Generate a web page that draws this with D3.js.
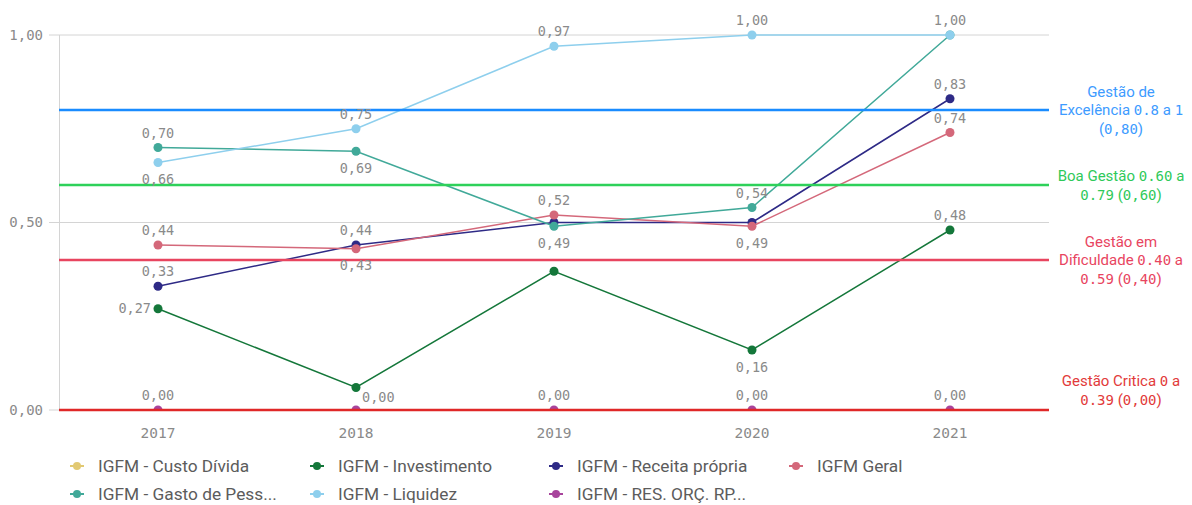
<!DOCTYPE html>
<html><head><meta charset="utf-8">
<script src="https://cdn.jsdelivr.net/npm/d3@7"></script>
<style>
body{margin:0;background:#fff;}
svg{display:block;}
</style></head>
<body>
<svg id="c" width="1192" height="505"></svg>
<script>
const years = ["2017","2018","2019","2020","2021"];
const yTicks = [0, 0.5, 1];

const custoDivida   = [null, null, null, null, null];
const investimento  = [0.27, 0.06, 0.37, 0.16, 0.48];
const receitaPropria= [0.33, 0.44, 0.50, 0.50, 0.83];
const igfmGeral     = [0.44, 0.43, 0.52, 0.49, 0.74];
const gastoPessoal  = [0.70, 0.69, 0.49, 0.54, 1.00];
const liquidez      = [0.66, 0.75, 0.97, 1.00, 1.00];
const resOrc        = [0.00, 0.00, 0.00, 0.00, 0.00];

// label placement per point: a=above, b=below, l=left, r=right-up, null=hidden
const investimentoLbl   = ["l", null, null, "b", "a"];
const receitaLbl        = ["a", "a", null, null, "a"];
const geralLbl          = ["a", "b", "a", "b", "a"];
const gastoLbl          = ["a", "b", "b", "a", null];
const liquidezLbl       = ["b", "a", "a", "a", "a"];
const resOrcLbl         = ["a", "r", "a", "a", "a"];

const seriesNames = ["IGFM - Custo Dívida","IGFM - Investimento","IGFM - Receita própria","IGFM Geral",
                     "IGFM - Gasto de Pess...","IGFM - Liquidez","IGFM - RES. ORÇ. RP..."];
const seriesColors = ["#e2c972","#14773a","#2e2a86","#d4687a","#41a999","#8ecfed","#a8449c"];

const series = [
  {name: seriesNames[0], color: seriesColors[0], values: custoDivida, lbl: [null,null,null,null,null]},
  {name: seriesNames[1], color: seriesColors[1], values: investimento, lbl: investimentoLbl},
  {name: seriesNames[2], color: seriesColors[2], values: receitaPropria, lbl: receitaLbl},
  {name: seriesNames[3], color: seriesColors[3], values: igfmGeral, lbl: geralLbl},
  {name: seriesNames[4], color: seriesColors[4], values: gastoPessoal, lbl: gastoLbl},
  {name: seriesNames[5], color: seriesColors[5], values: liquidez, lbl: liquidezLbl},
  {name: seriesNames[6], color: seriesColors[6], values: resOrc, lbl: resOrcLbl}
];

const refValues = [0.80, 0.60, 0.40, 0.00];
const refColors = ["#1a8cff", "#2ed15a", "#e8455f", "#e02828"];
const refLabelColors = ["#3d9bff", "#2fc95a", "#e8455f", "#e23a3a"];
const refLabels = [
  ["Gestão de", "Excelência 0.8 a 1", "(0,80)"],
  ["Boa Gestão 0.60 a", "0.79 (0,60)"],
  ["Gestão em", "Dificuldade 0.40 a", "0.59 (0,40)"],
  ["Gestão Critica 0 a", "0.39 (0,00)"]
];

const svg = d3.select("#c");
const M = {left: 59, right: 1049, top: 35, bottom: 410};
const x = d3.scaleBand().domain(years).range([M.left, M.right]);
const y = d3.scaleLinear().domain([0, 1]).range([M.bottom, M.top]);
const cx = d => x(d) + x.bandwidth() / 2;
const fmt = v => d3.format(".2f")(v).replace(".", ",");
const numFont = "'DejaVu Sans Mono', monospace";
const txtFont = "Roboto, 'Noto Sans', sans-serif";

// gridlines
svg.append("g").selectAll("line").data(yTicks).join("line")
  .attr("x1", M.left - 10).attr("x2", M.right)
  .attr("y1", d => y(d)).attr("y2", d => y(d))
  .attr("stroke", "#d4d4d4").attr("stroke-width", 1);

// y axis line
svg.append("line").attr("x1", M.left + 0.5).attr("x2", M.left + 0.5)
  .attr("y1", M.top).attr("y2", M.bottom).attr("stroke", "#d4d4d4");

// y tick labels
svg.append("g").selectAll("text").data(yTicks).join("text")
  .attr("x", 43).attr("y", d => y(d)).attr("dy", "0.35em")
  .attr("text-anchor", "end").attr("font-family", numFont).attr("font-size", 14)
  .attr("fill", "#8a8a8a").text(d => fmt(d));

// x tick labels
svg.append("g").selectAll("text").data(years).join("text")
  .attr("x", d => cx(d)).attr("y", 433).attr("dy", "0.35em")
  .attr("text-anchor", "middle").attr("font-family", numFont).attr("font-size", 14.5)
  .attr("fill", "#8a8a8a").text(d => d);

// clip
svg.append("clipPath").attr("id", "plotclip").append("rect")
  .attr("x", M.left - 20).attr("y", 0).attr("width", M.right - M.left + 40).attr("height", M.bottom);

const line = d3.line().defined(d => d.v != null).x(d => cx(d.year)).y(d => y(d.v));

const gS = svg.append("g").attr("clip-path", "url(#plotclip)");
series.forEach(s => {
  const pts = years.map((yr, i) => ({year: yr, v: s.values[i], lbl: s.lbl[i]}));
  gS.append("path").datum(pts).attr("d", line).attr("fill", "none")
    .attr("stroke", s.color).attr("stroke-width", 1.5);
  gS.append("g").selectAll("circle").data(pts.filter(p => p.v != null)).join("circle")
    .attr("cx", p => cx(p.year)).attr("cy", p => y(p.v)).attr("r", 4.5).attr("fill", s.color);
});

// reference lines
svg.append("g").selectAll("line").data(refValues).join("line")
  .attr("x1", M.left).attr("x2", M.right)
  .attr("y1", d => y(d)).attr("y2", d => y(d))
  .attr("stroke", (d, i) => refColors[i]).attr("stroke-width", 2.5);

// data labels
const gL = svg.append("g");
series.forEach(s => {
  years.forEach((yr, i) => {
    const v = s.values[i], p = s.lbl[i];
    if (v == null || !p) return;
    let tx = cx(yr), ty = y(v), anchor = "middle";
    if (p === "a") ty -= 14.5;
    else if (p === "b") ty += 17;
    else if (p === "l") { tx -= 7; anchor = "end"; }
    else if (p === "r") { tx += 6; ty -= 13; anchor = "start"; }
    gL.append("text").attr("x", tx).attr("y", ty).attr("dy", "0.35em")
      .attr("text-anchor", anchor).attr("font-family", numFont).attr("font-size", 13.5)
      .attr("fill", "#8a8a8a").text(fmt(v));
  });
});

// reference labels (digits drawn in the numeric font)
const gR = svg.append("g");
refValues.forEach((v, i) => {
  const lines = refLabels[i];
  const n = lines.length, lh = 18.5;
  lines.forEach((ln, k) => {
    const t = gR.append("text").attr("text-anchor", "middle").attr("x", 1121)
      .attr("y", y(v) + (k - (n - 1) / 2) * lh - (i === 3 ? 20 : 0))
      .attr("dy", "0.35em").attr("font-family", txtFont).attr("font-size", 15)
      .attr("fill", refLabelColors[i]);
    ln.split(/([0-9][0-9.,]*)/).filter(p => p.length).forEach(part => {
      const isNum = /^[0-9]/.test(part);
      t.append("tspan").attr("font-family", isNum ? numFont : txtFont)
        .attr("font-size", isNum ? 14 : 15).text(part);
    });
  });
});

// legend
const legCols = [77, 317, 556, 796];
const legRows = [466, 494];
const gLeg = svg.append("g");
series.forEach((s, i) => {
  const col = i < 4 ? i : i - 4, row = i < 4 ? 0 : 1;
  const lx = legCols[col], ly = legRows[row];
  const g = gLeg.append("g").attr("transform", `translate(${lx},${ly})`);
  g.append("line").attr("x1", -7).attr("x2", 7).attr("stroke", s.color).attr("stroke-width", 2);
  g.append("circle").attr("r", 4).attr("fill", s.color);
  g.append("text").attr("x", 21).attr("dy", "0.35em").attr("font-family", txtFont)
    .attr("font-size", 17.3).attr("fill", "#5c5c5c").text(s.name);
});
</script>
</body></html>
